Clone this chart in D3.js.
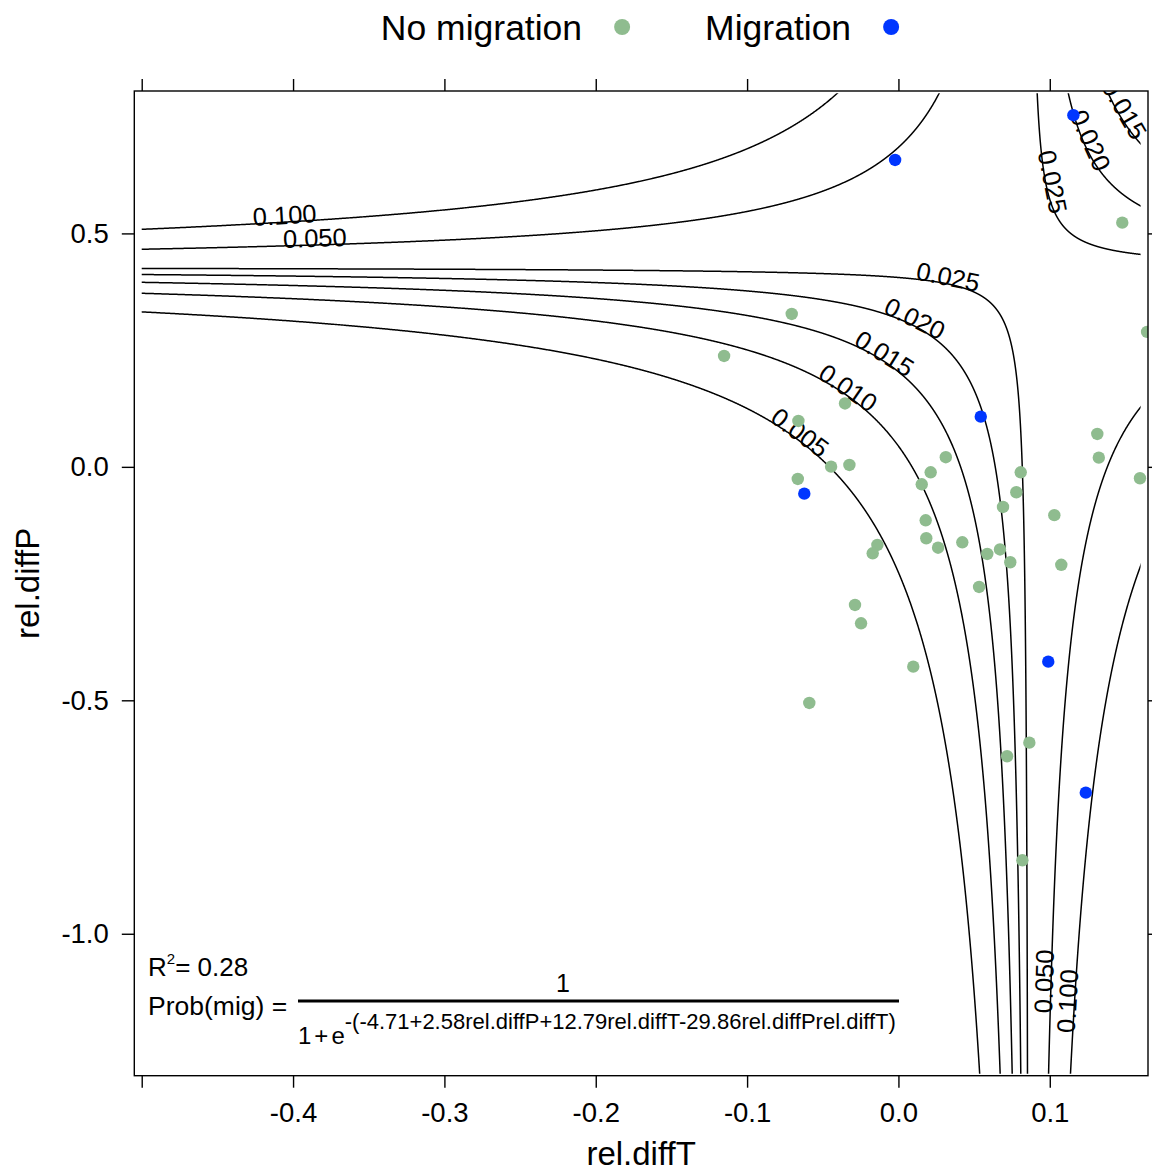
<!DOCTYPE html>
<html><head><meta charset="utf-8">
<script src="https://cdn.jsdelivr.net/npm/d3@7"></script>
<style>
body{margin:0;background:#fff}
text{font-family:"Liberation Sans",Arial,Helvetica,sans-serif;fill:#000}
</style>
</head><body>
<svg id="chart" width="1152" height="1173"></svg>
<script>
// ---------------- data ----------------
const noMigT = [0.1643,0.1479,-0.0705,-0.1152,-0.0661,-0.0353,-0.0665,-0.0445,-0.0324,0.0154,
  0.0213,0.0313,0.0180,0.0184,0.0262,0.0422,-0.0139,-0.0170,0.0587,0.0671,
  0.0739,0.0533,0.0691,0.0779,0.0808,0.1030,0.1076,0.1314,0.1324,0.1596,
  -0.0287,-0.0247,0.0098,-0.0589,0.0718,0.0865,0.0819];
const noMigP = [0.289,0.523,0.3275,0.2375,0.0983,0.1358,-0.0259,0.0004,0.0041,-0.0373,
  -0.0116,0.0206,-0.1144,-0.1529,-0.1731,-0.1615,-0.1673,-0.1851,-0.1865,-0.1769,
  -0.2043,-0.2572,-0.0859,-0.0544,-0.0116,-0.1034,-0.2097,0.0705,0.0197,-0.0244,
  -0.2958,-0.3350,-0.4279,-0.5057,-0.6198,-0.5907,-0.8426];
const migT = [0.1156,-0.0022,0.0544,-0.0622,0.0990,0.1238];
const migP = [0.7531,0.6573,0.1075,-0.0574,-0.4172,-0.6978];

// logistic model coefficients: intercept, rel.diffP, rel.diffT, rel.diffP:rel.diffT
const coefs = [-4.71, 2.58, 12.79, -29.86];
const rSquared = "0.28";
const contourLevels = [0.005, 0.010, 0.015, 0.020, 0.025, 0.050, 0.100];
const levelFormat = d3.format(".3f");
// contour label anchors: level, parameter axis, value along that axis
const labelLevel = [0.100, 0.050, 0.025, 0.020, 0.015, 0.010, 0.005, 0.025, 0.020, 0.015, 0.050, 0.100];
const labelAxis  = ["T","T","T","T","T","T","T","P","P","P","P","P"];
const labelAt    = [-0.4053,-0.3855,0.0319,0.0088,-0.0116,-0.0358,-0.0678,0.6074,0.6931,0.758,-1.1026,-1.1454];

const gridT = [-0.5, 0.16];
const gridP = [-1.3, 0.8];
const xTicks = [-0.5,-0.4,-0.3,-0.2,-0.1,0.0,0.1];
const xTickLabels = ["","-0.4","-0.3","-0.2","-0.1","0.0","0.1"];
const yTicks = [0.5,0.0,-0.5,-1.0];
const yTickLabels = ["0.5","0.0","-0.5","-1.0"];
const seriesNames = ["No migration","Migration"];
const seriesColors = ["#8fbc8f","#0036ff"];

// ---------------- layout ----------------
const svg = d3.select("#chart");
const panel = {left:134.3, right:1148, top:91, bottom:1075.7};
const x = d3.scaleLinear().domain([-0.5049, 0.1649]).range([panel.left, panel.right]);
const y = d3.scaleLinear().domain([-1.304, 0.805]).range([panel.bottom, panel.top]);

const defs = svg.append("defs");
defs.append("clipPath").attr("id","panelClip").append("rect")
  .attr("x",panel.left).attr("y",panel.top)
  .attr("width",panel.right-panel.left).attr("height",panel.bottom-panel.top);
defs.append("clipPath").attr("id","gridClip").append("rect")
  .attr("x",x(gridT[0])).attr("y",y(gridP[1]))
  .attr("width",x(gridT[1])-x(gridT[0])).attr("height",y(gridP[0])-y(gridP[1]));

// ---------------- contours (from the fitted model) ----------------
const [b0,b1,b2,b3] = coefs;
const T0 = -b1/b3, P0 = -b2/b3, c0 = b0 - b1*b2/b3;
const logit = p => Math.log(p/(1-p));
function branches(p){
  const k = (logit(p) - c0)/b3;
  const out = [];
  for (const s of [1,-1]){
    const pts = [];
    for (let i=0;i<=12000;i++){
      const e = -7 + i*(7.5/12000);
      const u = s*Math.pow(10,e), v = k/u;
      const T = T0+u, P = P0+v;
      if (T>=gridT[0]-0.02 && T<=gridT[1]+0.02 && P>=gridP[0]-0.05 && P<=gridP[1]+0.05) pts.push([T,P]);
    }
    if (pts.length>1) out.push(pts);
  }
  return out;
}
const line = d3.line().x(d=>x(d[0])).y(d=>y(d[1]));
const gC = svg.append("g").attr("clip-path","url(#gridClip)");
contourLevels.forEach(lv=>{
  branches(lv).forEach(b=>{
    gC.append("path").attr("d",line(b)).attr("fill","none")
      .attr("stroke","#000").attr("stroke-width",1.5);
  });
});

// labels
const gL = svg.append("g").attr("clip-path","url(#panelClip)");
labelLevel.forEach((lv,i)=>{
  const k = (logit(lv)-c0)/b3;
  let u,v;
  if (labelAxis[i]==="T"){ u = labelAt[i]-T0; v = k/u; } else { v = labelAt[i]-P0; u = k/v; }
  const px = x(T0+u), py = y(P0+v);
  const u2 = u*1.0005, v2 = k/u2;
  const dx = x(T0+u2)-px, dy = y(P0+v2)-py;
  let ang = Math.atan2(dy,dx)*180/Math.PI;
  if (ang>90) ang-=180; if (ang<-90) ang+=180;
  gL.append("text").attr("transform",`translate(${px},${py}) rotate(${ang})`)
    .attr("text-anchor","middle").attr("dy",2)
    .attr("font-size",25.5).text(levelFormat(lv));
});

// ---------------- points ----------------
const gP = svg.append("g").attr("clip-path","url(#panelClip)");
gP.selectAll("circle.nm").data(noMigT.map((t,i)=>[t,noMigP[i]])).join("circle")
  .attr("class","nm").attr("cx",d=>x(d[0])).attr("cy",d=>y(d[1])).attr("r",6.2)
  .attr("fill",seriesColors[0]);
gP.selectAll("circle.m").data(migT.map((t,i)=>[t,migP[i]])).join("circle")
  .attr("class","m").attr("cx",d=>x(d[0])).attr("cy",d=>y(d[1])).attr("r",6.2)
  .attr("fill",seriesColors[1]);

// ---------------- panel & axes ----------------
svg.append("rect").attr("x",panel.left).attr("y",panel.top)
  .attr("width",panel.right-panel.left).attr("height",panel.bottom-panel.top)
  .attr("fill","none").attr("stroke","#000").attr("stroke-width",1.4);

function styleAxis(g){
  g.select(".domain").remove();
  g.selectAll(".tick line").attr("stroke","#000").attr("stroke-width",1.4);
  g.selectAll(".tick text").attr("font-size",27.5).attr("fill","#000")
   .style("font-family",'"Liberation Sans",Arial,sans-serif');
}
svg.append("g").attr("transform",`translate(0,${panel.bottom})`)
  .call(d3.axisBottom(x).tickValues(xTicks).tickFormat((d,i)=>xTickLabels[i]).tickSize(12).tickPadding(15))
  .call(styleAxis);
svg.append("g").attr("transform",`translate(0,${panel.top})`)
  .call(d3.axisTop(x).tickValues(xTicks).tickFormat("").tickSize(12))
  .call(styleAxis);
svg.append("g").attr("transform",`translate(${panel.left},0)`)
  .call(d3.axisLeft(y).tickValues(yTicks).tickFormat((d,i)=>yTickLabels[i]).tickSize(12.5).tickPadding(13))
  .call(styleAxis);
svg.append("g").attr("transform",`translate(${panel.right},0)`)
  .call(d3.axisRight(y).tickValues(yTicks).tickFormat("").tickSize(12))
  .call(styleAxis);

// axis titles
svg.append("text").attr("x",(panel.left+panel.right)/2).attr("y",1165)
  .attr("text-anchor","middle").attr("font-size",33).text("rel.diffT");
svg.append("text").attr("transform",`translate(39,${(panel.top+panel.bottom)/2}) rotate(-90)`)
  .attr("text-anchor","middle").attr("font-size",33).text("rel.diffP");

// ---------------- legend ----------------
const gLeg = svg.append("g");
const legTexts = seriesNames.map(n=>gLeg.append("text").attr("y",40).attr("font-size",35.5).text(n));
const widths = legTexts.map(t=>t.node().getComputedTextLength());
const gapDot = 40, gapItem = 83, rDot = 8;
const total = widths[0]+gapDot+gapItem+widths[1]+gapDot+rDot;
let cx = 640 - total/2;
legTexts.forEach((t,i)=>{
  t.attr("x",cx);
  const dotX = cx+widths[i]+gapDot;
  gLeg.append("circle").attr("cx",dotX).attr("cy",27).attr("r",rDot).attr("fill",seriesColors[i]);
  cx = dotX + gapItem;
});

// ---------------- model annotation ----------------
const gA = svg.append("g");
const r2 = gA.append("text").attr("x",148).attr("y",976).attr("font-size",26);
r2.append("tspan").text("R");
r2.append("tspan").attr("font-size",15).attr("dy",-12).text("2");
r2.append("tspan").attr("dy",12).text("= " + rSquared);
gA.append("text").attr("x",148).attr("y",1015).attr("font-size",26.5).text("Prob(mig) =");
const fracL = 298, fracR = 899;
gA.append("line").attr("x1",fracL).attr("x2",fracR).attr("y1",1001).attr("y2",1001)
  .attr("stroke","#000").attr("stroke-width",3);
gA.append("text").attr("x",563).attr("y",992).attr("text-anchor","middle")
  .attr("font-size",25).text("1");
const fmt = d=>d3.format(".2f")(Math.abs(d));
const sgn = d=>d<0?"-":"+";
const expo = `-(${b0<0?"-":""}${fmt(b0)}${sgn(b1)}${fmt(b1)}rel.diffP${sgn(b2)}${fmt(b2)}rel.diffT${sgn(b3)}${fmt(b3)}rel.diffPrel.diffT)`;
const den = gA.append("text").attr("x",fracL).attr("y",1044).attr("font-size",24);
den.append("tspan").text("1");
den.append("tspan").attr("dx",3).text("+");
den.append("tspan").attr("dx",3).text("e");
den.append("tspan").attr("font-size",22).attr("dy",-15).text(expo);
</script>
</body></html>
